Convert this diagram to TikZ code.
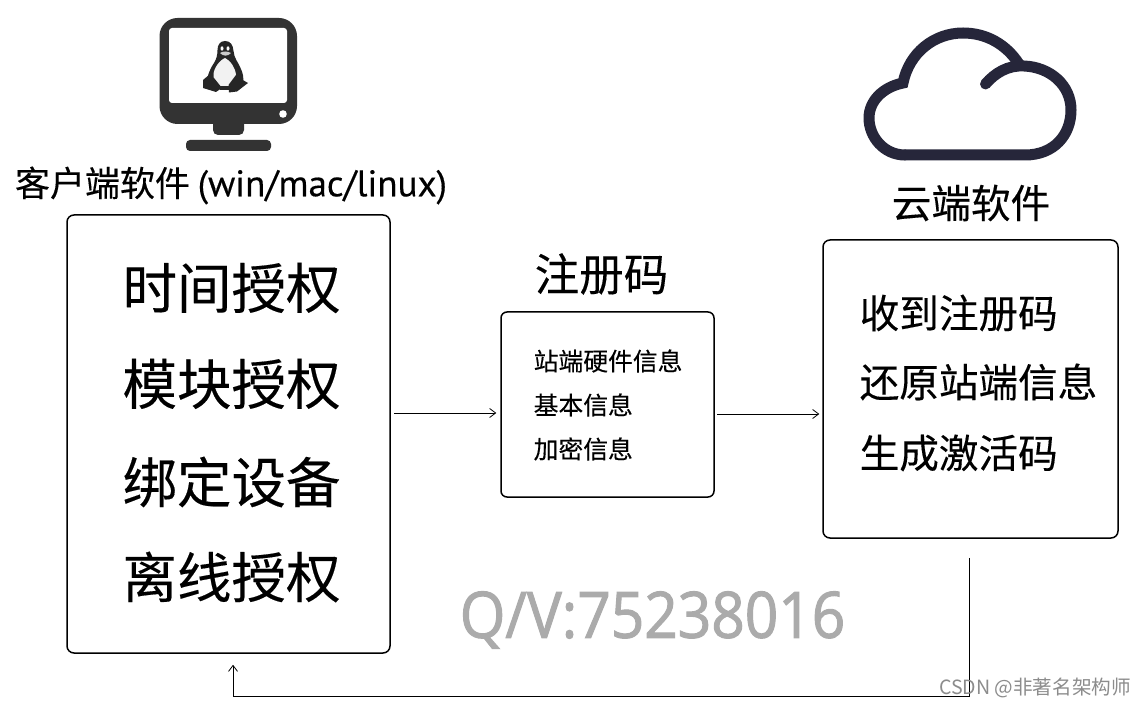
\documentclass[tikz,border=0pt]{standalone}
\usepackage{fontspec}
\setmainfont{Noto Sans CJK SC}[FakeBold=0.25]
\newfontfamily\plaincjk{Noto Sans CJK SC}
\newfontfamily\latinfont{PT Sans}[FakeBold=0.3]
\newfontfamily\markfont{Open Sans}[FakeStretch=0.915,FakeBold=1.6]
\usetikzlibrary{arrows.meta}
\definecolor{cloudc}{HTML}{26263A}
\tikzset{
  px/.style={x=1pt,y=-1pt},
  panel/.style={draw=black,line width=1.5pt,rounded corners=7pt,fill=white,inner sep=0pt,minimum width=#1},
  conn/.style={draw=black,line width=0.8pt,-{Straight Barb[length=6pt,width=9pt,line width=0.8pt]}},
  dark/.style={fill=black!80},
  cloudline/.style={draw=cloudc,line width=11pt,line cap=round},
  big/.style={inner sep=0pt,font=\fontsize{54.5pt}{57pt}\selectfont},
  mid/.style={inner sep=0pt,anchor=west,font=\fontsize{39.6pt}{42pt}\selectfont},
  small/.style={inner sep=0pt,anchor=west,font=\fontsize{24.8pt}{27pt}\selectfont},
}
\begin{document}
\begin{tikzpicture}[px]
\useasboundingbox (0,0) rectangle (1146,708);
\fill[white] (0,0) rectangle (1146,708);
% monitor
\fill[dark,rounded corners=18pt] (159.5,18) rectangle (297,124);
\fill[white,rounded corners=3pt] (169,28) rectangle (287,103);
\fill[white] (283,114) circle (3.8);
\fill[dark,rounded corners=5pt] (213,115) rectangle (244,135);
\fill[dark,rounded corners=4pt] (186,151) -- (186,140) -- (271,140) -- (271,151) -- cycle;
% penguin
\fill[black!85] (225,41) .. controls (230.5,41) and (233,45) .. (233.5,51)
  .. controls (234,58) and (238,62) .. (240.5,68) .. controls (243,73) and (244,78) .. (243,84)
  -- (225,90) -- (208,84) .. controls (206,77) and (210,69) .. (214,63)
  .. controls (216.5,59) and (217.5,55) .. (217.5,50) .. controls (217.5,45) and (220,41) .. (225,41) -- cycle;
\fill[white!95!black] (225,58) .. controls (230,60) and (235.5,68) .. (236,75)
  .. controls (236.5,83) and (231,87) .. (225,87) .. controls (219,87) and (213.5,83) .. (213.5,75)
  .. controls (213.5,68) and (220,60) .. (225,58) -- cycle;
\fill[black!85] (220,86.5) -- (230,86.5) -- (230,90) -- (220,90) -- cycle;
\fill[black!85] (203,80) -- (209,75) -- (214,78) -- (222,88) -- (216,92) -- (203,88) -- cycle;
\fill[black!85] (236,75) -- (241,79) -- (248,83) -- (237,91.5) -- (229,92.5) -- (228.5,85) -- cycle;
\fill[white] (222,48.5) ellipse (1.5 and 2.2);
\fill[white] (228,48.5) ellipse (1.5 and 2.2);
\fill[white!80!black] (220,53) .. controls (223,51) and (227,51) .. (231,53) .. controls (228,56.5) and (223,56.5) .. (220,53) -- cycle;
% cloud
\draw[cloudline] (905,155) -- (1025,155)
  .. controls (1054,155) and (1071,135) .. (1071,110)
  .. controls (1071,85) and (1050,67) .. (1024,66)
  .. controls (1008,65) and (995,73) .. (985.5,84);
\draw[cloudline,line join=miter] (905,155) .. controls (884,155) and (869,137) .. (869,118)
  .. controls (869,101) and (883,87) .. (903,83)
  .. controls (909,53) and (934,33) .. (963,33)
  .. controls (986,33) and (1006,44) .. (1019,64);
% boxes
\node[panel=323pt,minimum height=438pt] (clientbox) at (228.5,434) {};
\node[panel=213pt,minimum height=185pt,rounded corners=6pt] (codebox) at (607.5,404.5) {};
\node[panel=295pt,minimum height=298pt] (cloudbox) at (970.5,389) {};
% titles
\node[inner sep=0pt,font=\fontsize{35pt}{37pt}\selectfont] (clienttitle) at (231,185.5)
  {客户端软件\hspace{0.22em}{\latinfont\fontsize{37pt}{37pt}\selectfont(win/mac/linux)}};
\node[inner sep=0pt,font=\fontsize{39.6pt}{42pt}\selectfont] (cloudtitle) at (971,203) {云端软件};
\node[inner sep=0pt,font=\fontsize{44.5pt}{46pt}\selectfont] (codetitle) at (601.5,274) {注册码};
% client text
\node[big] (t1) at (231.5,288) {时间授权};
\node[big] (t2) at (231.5,384) {模块授权};
\node[big] (t3) at (231.5,482) {绑定设备};
\node[big] (t4) at (231.5,577) {离线授权};
% code text
\node[small] (c1) at (533.5,361) {站端硬件信息};
\node[small] (c2) at (533.5,405) {基本信息};
\node[small] (c3) at (533.5,449) {加密信息};
% cloud text
\node[mid] (s1) at (859.5,313) {收到注册码};
\node[mid] (s2) at (859.5,382) {还原站端信息};
\node[mid] (s3) at (859.5,453) {生成激活码};
% connectors
\coordinate (ya) at (0,413);
\coordinate (yb) at (0,414);
\coordinate (xc) at (969,696.5);
\coordinate (xd) at (233,696.5);
\draw[conn,shorten <=3.5pt,shorten >=4pt] (clientbox.east |- ya) -- (codebox.west |- ya);
\draw[conn,shorten <=2.5pt,shorten >=3pt] (codebox.east |- yb) -- (cloudbox.west |- yb);
\draw[conn,shorten <=19pt,shorten >=11pt] (cloudbox.south -| xc) -- (xc) -- (xd) -- (clientbox.south -| xd);
% watermarks
\node[inner sep=0pt,text=black!33,font=\markfont\fontsize{64pt}{67pt}\selectfont] (qv) at (652.5,620) {Q/V:75238016};
\node[inner sep=0pt,text=black!45,font=\plaincjk\fontsize{19.6pt}{21pt}\selectfont] (csdn) at (1035,688) {CSDN @非著名架构师};
\end{tikzpicture}
\end{document}
